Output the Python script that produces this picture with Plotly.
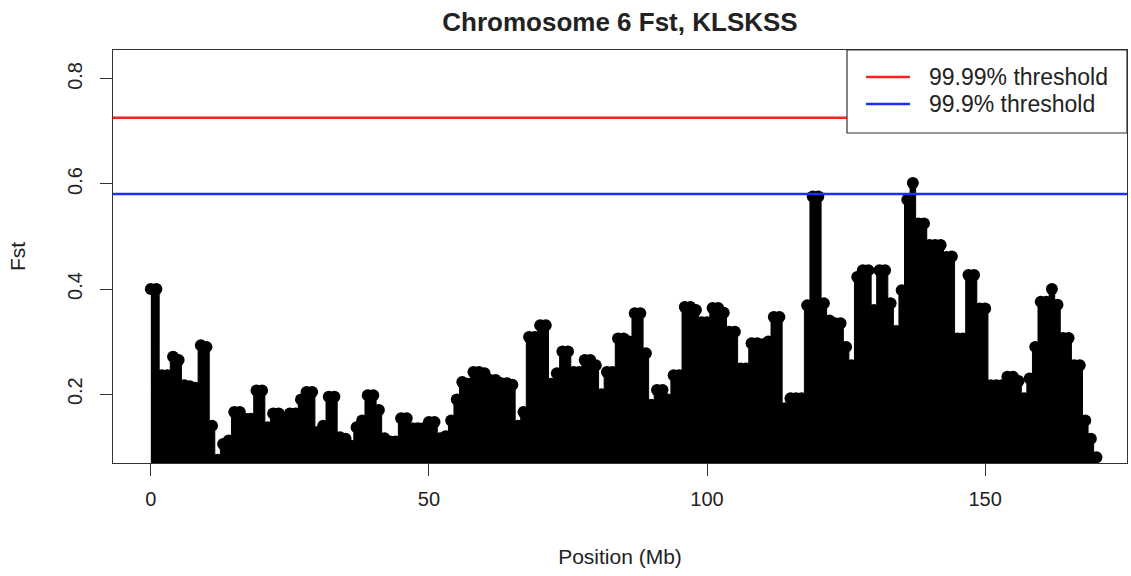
import plotly.graph_objects as go

# Window positions along chromosome 6 (Mb) and Fst values
positions = list(range(0, 171))
fst = [
    0.40, 0.40, 0.236, 0.236, 0.271, 0.265, 0.217, 0.215, 0.212, 0.293,
    0.29, 0.14, 0.075, 0.105, 0.112, 0.166, 0.166, 0.153, 0.153, 0.207,
    0.207, 0.137, 0.163, 0.163, 0.153, 0.163, 0.163, 0.19, 0.204, 0.204,
    0.128, 0.14, 0.195, 0.195, 0.118, 0.115, 0.102, 0.137, 0.15, 0.198,
    0.198, 0.17, 0.116, 0.11, 0.11, 0.154, 0.154, 0.135, 0.135, 0.135,
    0.147, 0.147, 0.116, 0.12, 0.15, 0.19, 0.223, 0.22, 0.242, 0.242,
    0.24, 0.227, 0.227, 0.221, 0.221, 0.218, 0.14, 0.166, 0.309, 0.309,
    0.331, 0.331, 0.22, 0.24, 0.281, 0.281, 0.242, 0.242, 0.265, 0.265,
    0.255, 0.20, 0.242, 0.242, 0.306, 0.306, 0.30, 0.354, 0.354, 0.278,
    0.18, 0.208, 0.208, 0.19, 0.236, 0.236, 0.366, 0.366, 0.36, 0.337,
    0.337, 0.364, 0.364, 0.355, 0.319, 0.319, 0.249, 0.249, 0.297, 0.297,
    0.295, 0.30, 0.347, 0.347, 0.173, 0.192, 0.192, 0.192, 0.369, 0.576,
    0.576, 0.373, 0.34, 0.335, 0.335, 0.29, 0.255, 0.423, 0.436, 0.436,
    0.36, 0.436, 0.436, 0.373, 0.32, 0.398, 0.57, 0.602, 0.525, 0.525,
    0.484, 0.484, 0.484, 0.461, 0.462, 0.306, 0.306, 0.427, 0.427, 0.363,
    0.363, 0.217, 0.217, 0.217, 0.233, 0.233, 0.225, 0.192, 0.23, 0.29,
    0.376, 0.376, 0.40, 0.37, 0.307, 0.307, 0.255, 0.255, 0.15, 0.115,
    0.08,
]

threshold_names = ["99.99% threshold", "99.9% threshold"]
threshold_values = [0.726, 0.581]
threshold_colors = ["#ff2020", "#1f2fff"]

x_ticks = [0, 50, 100, 150]
y_ticks = [0.2, 0.4, 0.6, 0.8]
x_range = [-6.8, 175.5]
y_range = [0.069, 0.855]

fig = go.Figure()

# solid columns under the points (skyline filled down to the axis)
fig.add_trace(go.Scatter(
    x=positions, y=fst, mode="lines", line=dict(color="black", width=1, shape="hvh"),
    fill="tozeroy", fillcolor="black", showlegend=False, hoverinfo="skip",
))
fig.add_trace(go.Scatter(
    x=positions, y=fst, mode="markers",
    marker=dict(color="black", size=12, line=dict(width=0)),
    showlegend=False,
))

for name, val, col in zip(threshold_names, threshold_values, threshold_colors):
    fig.add_trace(go.Scatter(
        x=x_range, y=[val, val], mode="lines", name=name,
        line=dict(color=col, width=2.6), showlegend=False,
    ))

# legend box drawn like R's legend("topright")
shapes = [dict(type="rect", xref="paper", yref="paper",
               x0=(847 - 113) / 1014, x1=1.0, y0=1 - (133 - 50) / 413, y1=1.0,
               line=dict(color="#333", width=1.2), fillcolor="white", layer="above")]
annotations = []
legend_rows_px = [77, 104]
for name, col, ypx in zip(threshold_names, threshold_colors, legend_rows_px):
    yp = 1 - (ypx - 50) / 413
    shapes.append(dict(type="line", xref="paper", yref="paper",
                       x0=(866 - 113) / 1014, x1=(910 - 113) / 1014, y0=yp, y1=yp,
                       line=dict(color=col, width=2.6), layer="above"))
    annotations.append(dict(xref="paper", yref="paper", x=(927 - 113) / 1014, y=yp,
                            xanchor="left", yanchor="middle", text=name, showarrow=False,
                            font=dict(size=23, color="#222")))

fig.update_layout(
    width=1131, height=576,
    margin=dict(l=113, r=4, t=50, b=113),
    paper_bgcolor="white", plot_bgcolor="white",
    font=dict(family="Liberation Sans, Arial, sans-serif", color="#222", size=20),
    title=dict(
        text="<b>Chromosome 6 Fst, KLSKSS</b>",
        x=0.5, xref="paper", xanchor="center",
        y=1 - 22 / 576, yref="container", yanchor="middle",
        font=dict(size=26, color="#222"),
    ),
    showlegend=False,
    shapes=shapes,
    annotations=annotations,
)

fig.update_xaxes(
    range=x_range, tickvals=x_ticks, ticktext=[str(t) for t in x_ticks],
    ticks="outside", ticklen=12, tickwidth=1, tickcolor="#333",
    showline=True, mirror=True, linecolor="#333", linewidth=1.3,
    showgrid=False, zeroline=False, ticklabelstandoff=6,
    title=dict(text="Position (Mb)", standoff=40, font=dict(size=21)),
)
fig.update_yaxes(
    range=y_range, tickvals=y_ticks, ticktext=[f"{t:.1f}" for t in y_ticks],
    ticks="outside", ticklen=12, tickwidth=1, tickcolor="#333", tickangle=-90,
    showline=True, mirror=True, linecolor="#333", linewidth=1.3,
    showgrid=False, zeroline=False, ticklabelstandoff=10,
    title=dict(text="Fst", standoff=32, font=dict(size=21)),
)

fig.write_html("out.html")
